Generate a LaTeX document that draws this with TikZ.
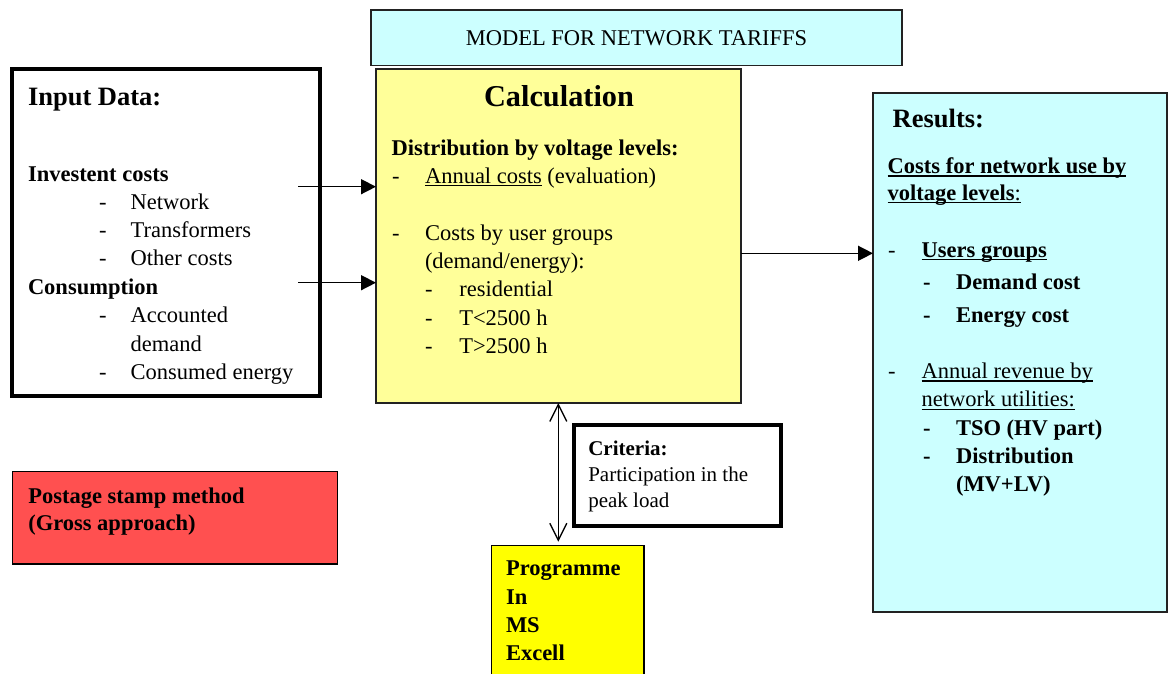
\documentclass[tikz,border=0pt]{standalone}
\usepackage{fontspec}
\setmainfont{Liberation Serif}
\usetikzlibrary{arrows.meta}

% underlined text with a rule at a fixed depth below the baseline
\newcommand\ulin[1]{\setbox0=\hbox{#1}\rlap{\rule[-2.8pt]{\wd0}{1.2pt}}\box0\relax}
\newcommand\ulinb[1]{\setbox0=\hbox{#1}\rlap{\rule[-3.2pt]{\wd0}{1.8pt}}\box0\relax}

\definecolor{paleCyan}{HTML}{CCFFFF}
\definecolor{paleYellow}{HTML}{FFFF99}
\definecolor{stampRed}{HTML}{FF5050}
\definecolor{brightYellow}{HTML}{FFFF00}
\definecolor{edgeGray}{HTML}{222222}

\tikzset{
  box/.style={draw=edgeGray, line width=1.3pt, inner sep=0pt, outer sep=0pt, anchor=north west},
  heavybox/.style={box, draw=black, line width=4.5pt},
  txt/.style={anchor=base west, inner sep=0pt, outer sep=0pt, font=\fontsize{22.5}{27}\selectfont},
  btxt/.style={txt, font=\fontsize{22.5}{27}\selectfont\bfseries},
  stxt/.style={txt, font=\fontsize{21}{25}\selectfont},
  sbtxt/.style={txt, font=\fontsize{21}{25}\selectfont\bfseries},
  head/.style={txt, font=\fontsize{26.5}{30}\selectfont\bfseries},
  link/.style={line width=1.5pt, -{Triangle[length=15pt,width=15pt]}},
  twoway/.style={line width=1.3pt, {Straight Barb[length=17pt,width=17pt,line width=1.3pt]}-{Straight Barb[length=17pt,width=17pt,line width=1.3pt]}}
}

\begin{document}
\begin{tikzpicture}[x=1pt, y=-1pt]
\clip (0,0) rectangle (1169,673);
\fill[white] (0,0) rectangle (1169,673);

% ---- boxes ----
\node[box, fill=paleCyan, minimum width=531pt, minimum height=55.7pt] (title) at (371,10) {};
\node[heavybox, minimum width=308pt, minimum height=327pt] (input) at (12,69) {};
\node[box, fill=paleYellow, minimum width=365pt, minimum height=334pt] (calc) at (376,69) {};
\node[box, fill=paleCyan, minimum width=294pt, minimum height=519pt] (res) at (873,93) {};
\node[box, fill=stampRed, draw=black, minimum width=325pt, minimum height=92.3pt] (stamp) at (12.7,471.7) {};
\node[heavybox, minimum width=207pt, minimum height=101pt] (crit) at (574,425) {};
\node[box, fill=brightYellow, draw=black, minimum width=152.3pt, minimum height=150pt] (prog) at (491.7,545.7) {};

% ---- title ----
\node[txt, anchor=base] (titletext) at (636.5,45) {MODEL FOR NETWORK TARIFFS};

% ---- input data ----
\node[head] (inhead) at (28,105) {Input Data:};
\node[btxt] (inv) at (28,181) {Investent costs};
\node[txt] (d1) at (99,209) {-};   \node[txt] (i1) at (130.7,209) {Network};
\node[txt] (d2) at (99,237) {-};   \node[txt] (i2) at (130.7,237) {Transformers};
\node[txt] (d3) at (99,265) {-};   \node[txt] (i3) at (130.7,265) {Other costs};
\node[btxt] (cons) at (28,294) {Consumption};
\node[txt] (d4) at (99,322) {-};   \node[txt] (i4) at (130.7,322) {Accounted};
\node[txt] (i5) at (130.7,351) {demand};
\node[txt] (d6) at (99,379) {-};   \node[txt] (i6) at (130.7,379) {Consumed energy};

% ---- calculation ----
\node[txt, anchor=base, font=\fontsize{30.3}{34}\selectfont\bfseries] (calchead) at (559,106.7) {Calculation};
\node[btxt] (c0) at (391.7,155) {Distribution by voltage levels:};
\node[txt] (cd1) at (392,183.3) {-};  \node[txt] (c1) at (425,183.3) {\ulin{Annual costs} (evaluation)};
\node[txt] (cd2) at (392,240) {-};    \node[txt] (c2) at (425,240) {Costs by user groups};
\node[txt] (c3) at (425,268) {(demand/energy):};
\node[txt] (cd4) at (425,296.7) {-};  \node[txt] (c4) at (459.3,296.7) {residential};
\node[txt] (cd5) at (425,325) {-};    \node[txt] (c5) at (459.3,325) {T<2500 h};
\node[txt] (cd6) at (425,353) {-};    \node[txt] (c6) at (459.3,353) {T>2500 h};

% ---- results ----
\node[head] (reshead) at (892.7,127.2) {Results:};
\node[btxt] (r1) at (887.7,173.3) {\ulinb{Costs for network use by}};
\node[txt] (r2) at (887.7,200.2) {\ulinb{\textbf{voltage levels}:}};
\node[txt] (rd3) at (888,257.1) {-};  \node[btxt] (r3) at (921.7,257.1) {\ulinb{Users groups}};
\node[btxt] (rd4) at (923,289.8) {-}; \node[btxt] (r4) at (956,289.8) {Demand cost};
\node[btxt] (rd5) at (923,322.5) {-}; \node[btxt] (r5) at (956,322.5) {Energy cost};
\node[txt] (rd6) at (888,378.7) {-};  \node[txt] (r6) at (921.7,378.7) {\ulin{Annual revenue by}};
\node[txt] (r7) at (921.7,406.9) {\ulin{network utilities:}};
\node[btxt] (rd8) at (923,435.2) {-}; \node[btxt] (r8) at (956,435.2) {TSO (HV part)};
\node[btxt] (rd9) at (923,463.1) {-}; \node[btxt] (r9) at (956,463.1) {Distribution};
\node[btxt] (r10) at (956,491.4) {(MV+LV)};

% ---- postage stamp ----
\node[btxt] (s1) at (28.3,503.3) {Postage stamp method};
\node[btxt] (s2) at (28.3,530) {(Gross approach)};

% ---- criteria ----
\node[sbtxt] (k1) at (588.3,455) {Criteria:};
\node[stxt] (k2) at (588.3,481.7) {Participation in the};
\node[stxt] (k3) at (588.3,507.3) {peak load};

% ---- programme ----
\node[btxt] (p1) at (506,575) {Programme};
\node[btxt] (p2) at (506,604) {In};
\node[btxt] (p3) at (506,632) {MS};
\node[btxt] (p4) at (506,660.7) {Excell};

% ---- connectors ----
\coordinate (a1) at (298,186.7);
\coordinate (a2) at (298,282.7);
\coordinate (a3) at (741,253.3);
\coordinate (v) at (558.3,0);
\draw[link] (a1) -- (a1 -| calc.west);
\draw[link] (a2) -- (a2 -| calc.west);
\draw[link] (a3) -- (a3 -| res.west);
\draw[twoway] (v |- calc.south) -- ([yshift=4pt]v |- prog.north);
\end{tikzpicture}
\end{document}
